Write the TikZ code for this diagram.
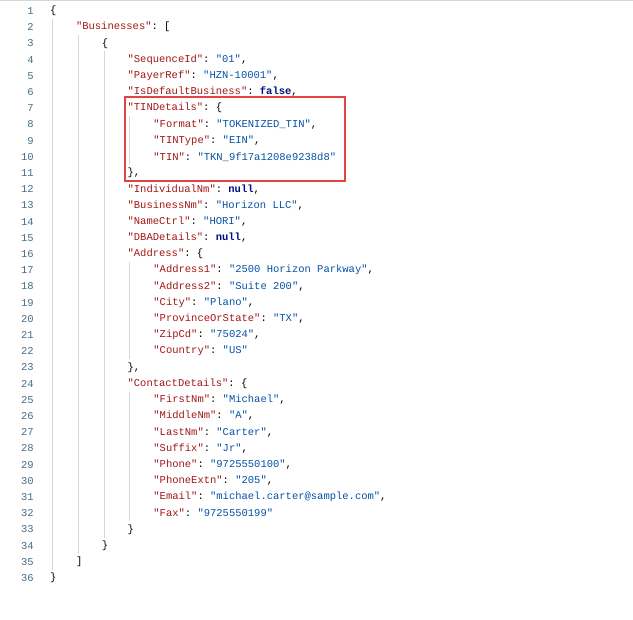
\documentclass[tikz,border=0pt]{standalone}
\usepackage{fontspec}
\setmonofont{Liberation Mono}
\usepackage{xcolor}
\definecolor{keyred}{RGB}{163,21,21}
\definecolor{strblue}{RGB}{4,81,165}
\definecolor{litblue}{RGB}{0,16,128}
\definecolor{numgray}{RGB}{70,110,130}
\definecolor{guidegray}{RGB}{215,215,215}
\definecolor{boxred}{RGB}{226,68,68}
\newcommand{\jk}[1]{\textcolor{keyred}{"#1"}}
\newcommand{\js}[1]{\textcolor{strblue}{"#1"}}
\newcommand{\jl}[1]{\textcolor{litblue}{\bfseries #1}}
\tikzset{
  code/.style={anchor=west, inner sep=0pt, font=\ttfamily\fontsize{10.5}{12}\selectfont},
  lnum/.style={anchor=east, inner sep=0pt, text=numgray, font=\ttfamily\fontsize{10.5}{12}\selectfont},
  guide/.style={guidegray, line width=0.8pt}
}
\begin{document}
\begin{tikzpicture}[x=1pt,y=-1pt]
    \useasboundingbox (0,0) rectangle (633,620);
    \draw[guidegray] (0,0.5) -- (633,0.5);

    % Indent guides
    \draw[guide] (52,19) -- (52,570);
    \draw[guide] (78,35) -- (78,554);
    \draw[guide] (104,51) -- (104,538);
    \foreach \a/\b in {116/165, 262/359, 392/521}
        \draw[guide] (129,\a) -- (129,\b);

    % Code lines
    \foreach \i/\ind/\txt in {
        1/0/{\{},
        2/1/{\jk{Businesses}: [},
        3/2/{\{},
        4/3/{\jk{SequenceId}: \js{01},},
        5/3/{\jk{PayerRef}: \js{HZN-10001},},
        6/3/{\jk{IsDefaultBusiness}: \jl{false},},
        7/3/{\jk{TINDetails}: \{},
        8/4/{\jk{Format}: \js{TOKENIZED\_TIN},},
        9/4/{\jk{TINType}: \js{EIN},},
        10/4/{\jk{TIN}: \js{TKN\_9f17a1208e9238d8}},
        11/3/{\},},
        12/3/{\jk{IndividualNm}: \jl{null},},
        13/3/{\jk{BusinessNm}: \js{Horizon LLC},},
        14/3/{\jk{NameCtrl}: \js{HORI},},
        15/3/{\jk{DBADetails}: \jl{null},},
        16/3/{\jk{Address}: \{},
        17/4/{\jk{Address1}: \js{2500 Horizon Parkway},},
        18/4/{\jk{Address2}: \js{Suite 200},},
        19/4/{\jk{City}: \js{Plano},},
        20/4/{\jk{ProvinceOrState}: \js{TX},},
        21/4/{\jk{ZipCd}: \js{75024},},
        22/4/{\jk{Country}: \js{US}},
        23/3/{\},},
        24/3/{\jk{ContactDetails}: \{},
        25/4/{\jk{FirstNm}: \js{Michael},},
        26/4/{\jk{MiddleNm}: \js{A},},
        27/4/{\jk{LastNm}: \js{Carter},},
        28/4/{\jk{Suffix}: \js{Jr},},
        29/4/{\jk{Phone}: \js{9725550100},},
        30/4/{\jk{PhoneExtn}: \js{205},},
        31/4/{\jk{Email}: \js{michael.carter@sample.com},},
        32/4/{\jk{Fax}: \js{9725550199}},
        33/3/{\}},
        34/2/{\}},
        35/1/{]},
        36/0/{\}}} {
        \node[lnum] (n\i) at (34,{11+(\i-1)*16.2}) {\i};
        \node[code] (l\i) at ({50+\ind*25.8},{11+(\i-1)*16.2}) {\txt};
    }

    % Highlight
    \draw[boxred, line width=2.2pt] (125,97) rectangle (345,181);
\end{tikzpicture}
\end{document}
